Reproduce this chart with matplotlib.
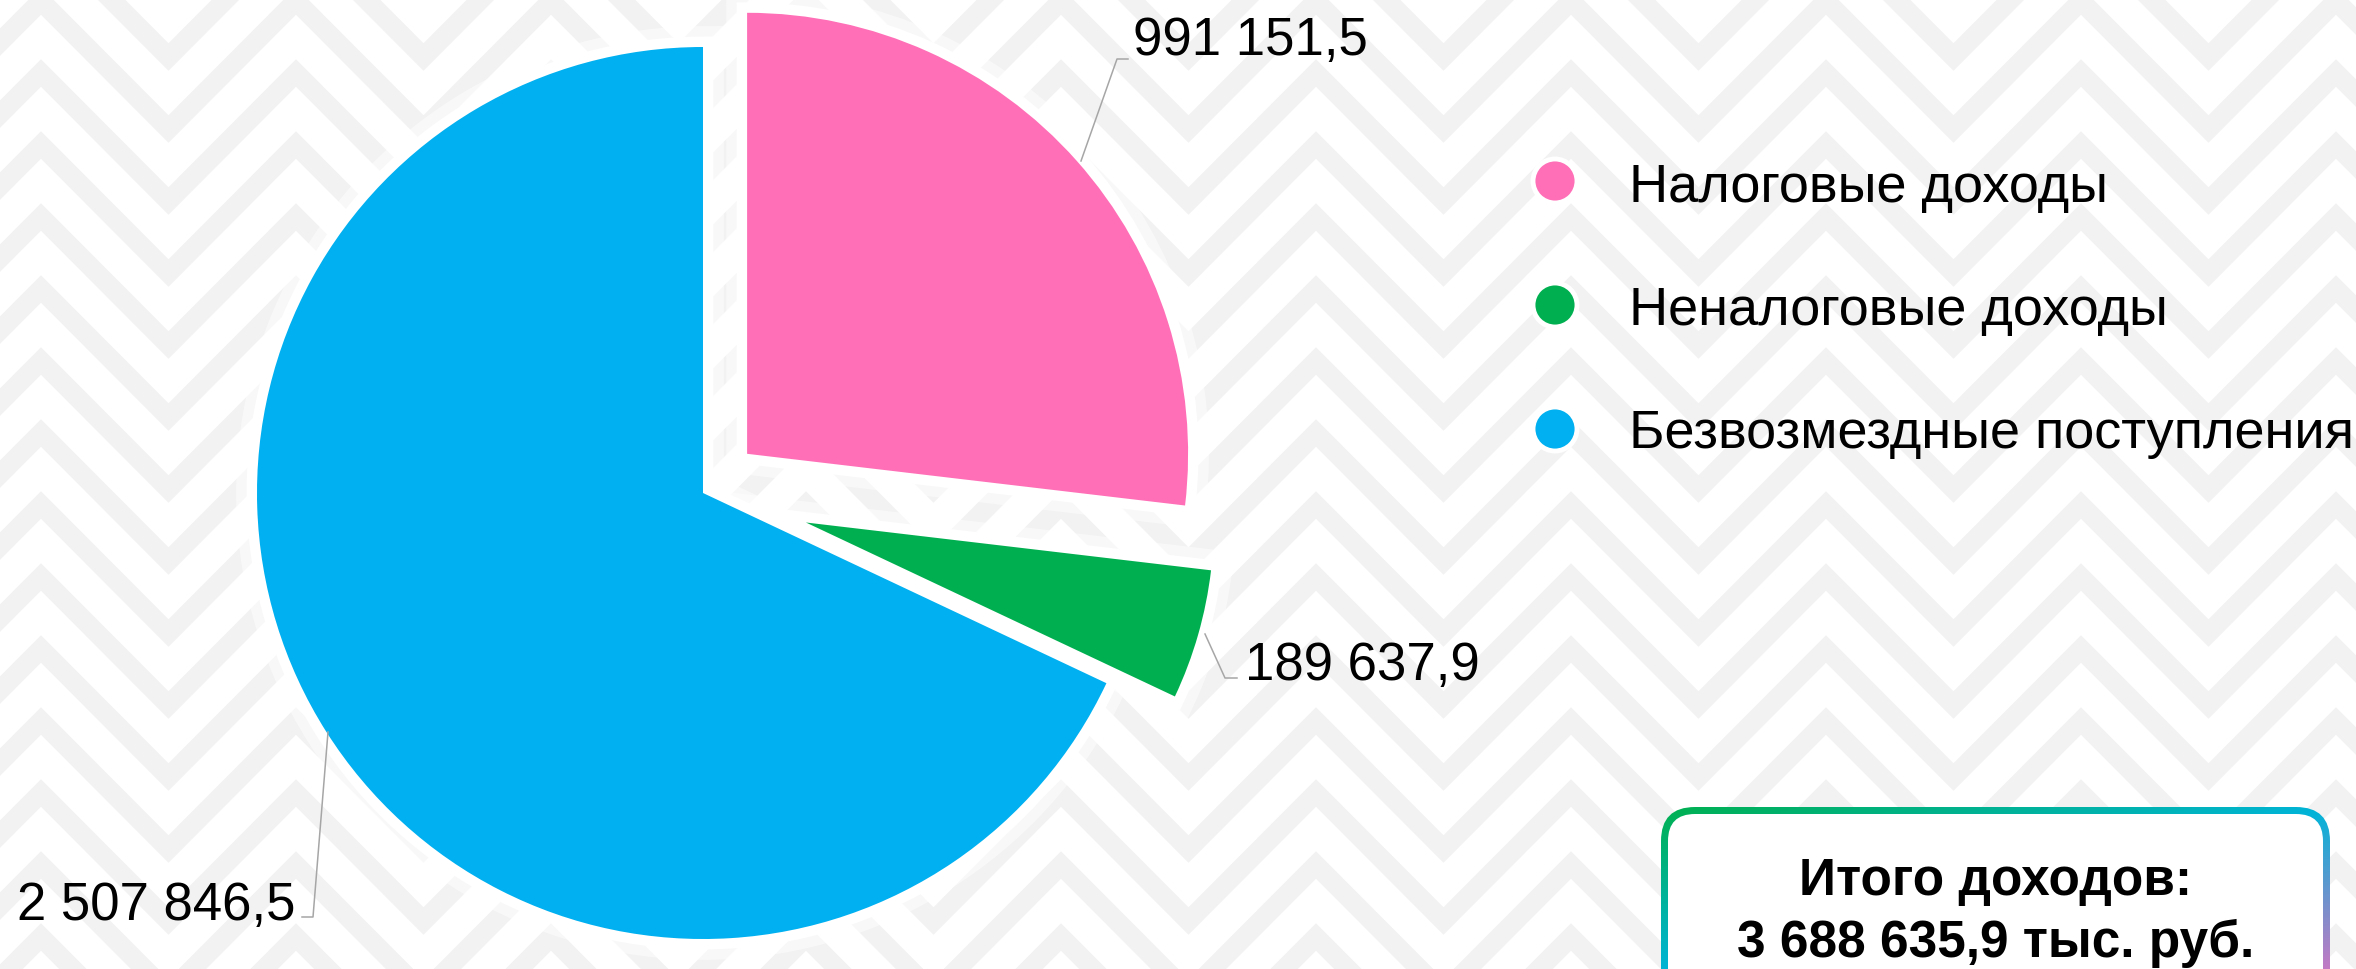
import numpy as np
import matplotlib
matplotlib.use('Agg')
import matplotlib.pyplot as plt
import matplotlib.patheffects as pe
from matplotlib.patches import Circle, FancyBboxPatch
from matplotlib.colors import LinearSegmentedColormap

plt.rcParams['font.family'] = ['Liberation Sans', 'DejaVu Sans']

# data
categories = ['Налоговые доходы', 'Неналоговые доходы', 'Безвозмездные поступления']
values = [991151.5, 189637.9, 2507846.5]
value_labels = ['991 151,5', '189 637,9', '2 507 846,5']
colors = ['#FF6FB7', '#00B050', '#00B0F0']
total_text = ['Итого доходов:', '3 688 635,9 тыс. руб.']

W, H = 2356, 970
fig = plt.figure(figsize=(W / 100, H / 100), dpi=100, facecolor='white')

#%% background ornament (light grey zigzags)
ax0 = fig.add_axes([0, 0, 1, 1], zorder=0)
ax0.set_xlim(0, W)
ax0.set_ylim(H, 0)
ax0.axis('off')
P = 255
xs = np.arange(41 - 2 * P, W + 2 * P, P / 2)
for base in np.arange(-150, H + 150, 72):
    ys = base + np.where(np.round((xs - 41) / (P / 2)) % 2 == 0, -64, 64)
    ax0.plot(xs, ys, color='#f2f2f2', lw=14, solid_joinstyle='miter', zorder=0)

#%% pie
ax = fig.add_axes([0, 0, 1, 1], zorder=1)
center = (703, H - 494)
explode = [59, 107, 0]
radii = [441, 408, 446]
glow = [pe.Stroke(linewidth=30, foreground='white', alpha=0.5), pe.Normal()]
back, _ = ax.pie(values, colors=['white'] * 3, radius=446, center=center, startangle=90,
                 counterclock=False, explode=explode,
                 wedgeprops=dict(edgecolor='white', linewidth=15, path_effects=glow))
front, _ = ax.pie(values, colors=colors, radius=446, center=center, startangle=90,
                  counterclock=False, explode=explode, wedgeprops=dict(linewidth=0))
for w1, w2, r in zip(back, front, radii):
    w1.set_radius(r)
    w2.set_radius(r)
ax.set_xlim(0, W)
ax.set_ylim(0, H)
ax.set_aspect('auto')
ax.axis('off')

#%% labels, legend, total box (pixel coords, y down)
ax2 = fig.add_axes([0, 0, 1, 1], zorder=2)
ax2.set_xlim(0, W)
ax2.set_ylim(H, 0)
ax2.axis('off')

label_pos = [(1133, 55), (1245, 680), (17, 920)]
leaders = [[(1128, 60), (1117, 60), (1081, 162)],
           [(1237, 679), (1225, 679), (1205, 635)],
           [(302, 918), (313, 918), (328, 733)]]
for txt, (x, y), ln in zip(value_labels, label_pos, leaders):
    ax2.text(x, y, txt, fontsize=38, va='baseline', ha='left', color='black')
    lx, ly = zip(*ln)
    ax2.plot(lx, ly, color='#a6a6a6', lw=1.1)

leg_y = [182, 306, 430]
leg_base = [202, 325, 448]
for name, c, yc, yb in zip(categories, colors, leg_y, leg_base):
    ax2.add_patch(Circle((1555, yc), 22, facecolor=c, edgecolor='white', lw=3.5))
    ax2.text(1629, yb, name, fontsize=39, va='baseline', ha='left', color='black')

# total box with gradient border
bx, by, bw, bh = 1661, 808, 669, 320
outer = FancyBboxPatch((bx, by), bw, bh, boxstyle='round,pad=0,rounding_size=34',
                       facecolor='none', edgecolor='none')
ax2.add_patch(outer)
gx, gy = np.meshgrid(np.linspace(0, 1, 300), np.linspace(0, 1, 80))
t = 0.5 * gx + 0.5 * gy
grad = LinearSegmentedColormap.from_list('g', ['#00B050', '#00B4D8', '#C878C4'])
im = ax2.imshow(grad(t), extent=(bx, bx + bw, 975, by), origin='upper',
                aspect='auto', zorder=2)
im.set_clip_path(outer)
ax2.add_patch(FancyBboxPatch((bx + 7, by + 7), bw - 14, bh - 14,
                             boxstyle='round,pad=0,rounding_size=27',
                             facecolor='white', edgecolor='none', zorder=3))
for line, yb in zip(total_text, [895, 957]):
    ax2.text(bx + bw / 2, yb, line, fontsize=37, fontweight='bold',
             ha='center', va='baseline', zorder=4)

plt.savefig('out.png', dpi=100, facecolor='white')
